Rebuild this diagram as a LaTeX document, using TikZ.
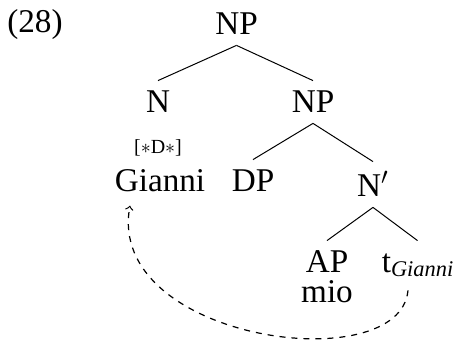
\documentclass[tikz,border=0pt]{standalone}
\usepackage{fontspec}
\setmainfont{Liberation Serif}
\begin{document}
\begin{tikzpicture}
    \def\dx{0.5pt}
    \def\dy{0.5pt}

    \tikzstyle{cat}=[anchor=base,inner sep=5pt,text height=11pt,text depth=0pt,font=\fontsize{16.6}{20}\selectfont]
    \tikzstyle{word}=[anchor=base,inner sep=0pt,font=\fontsize{16.6}{20}\selectfont]
    \tikzstyle{feat}=[anchor=base,inner sep=0pt,font=\fontsize{10}{12}\selectfont]

    \useasboundingbox (0,0) rectangle (456*\dx,-340*\dy);

    \node[word]  (exnum) at (35*\dx,-33*\dy) {(28)};
    \node[cat]  (np) at (236.5*\dx,-35*\dy) {NP};
    \node[cat]  (n) at (158*\dx,-113*\dy) {N};
    \node[cat]  (npb) at (313*\dx,-113*\dy) {NP};
    \node[feat]  (feat) at (158*\dx,-154*\dy) {[$\ast$D$\ast$]};
    \node[word]  (gianni) at (160*\dx,-192*\dy) {Gianni};
    \node[cat]  (dp) at (253*\dx,-192*\dy) {DP};
    \node[cat,text height=12.5pt]  (nbar) at (373*\dx,-197*\dy) {N$'$};
    \node[cat]  (ap) at (327*\dx,-273*\dy) {AP};
    \node[word]  (mio) at (327*\dx,-303*\dy) {mio};
    \node[cat]  (tg) at (417.5*\dx,-273*\dy) {t\raisebox{-2pt}{\fontsize{11.2}{12}\selectfont\itshape Gianni}};

    \tikzstyle{edge} = [draw=black, line width=0.5pt]
    \tikzstyle{move} = [draw=black, line width=0.6pt, dashed, ->]

          \draw [edge] (np.south) -- (n.north);
          \draw [edge] (np.south) -- (npb.north);
          \draw [edge] (npb.south) -- (dp.north);
          \draw [edge] (npb.south) -- (nbar.north);
          \draw [edge] (nbar.south) -- (ap.north);
          \draw [edge] (nbar.south) -- (tg.north);
          \draw [move] ([shift={(-9.5*\dx,-7*\dy)}]tg.south) .. controls +(-8*\dx,-90*\dy) and +(-25*\dx,-135*\dy) .. ([shift={(-30*\dx,-13*\dy)}]gianni.south);

  \end{tikzpicture}
\end{document}
